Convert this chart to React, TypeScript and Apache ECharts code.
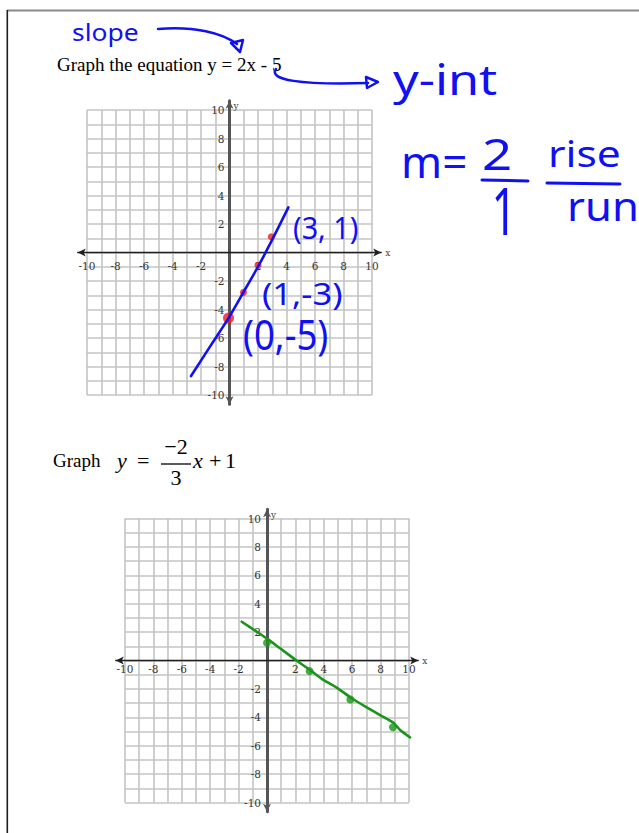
import React, { useEffect, useRef } from "react";
import * as echarts from "echarts";

// ---- data ----
const CELL_MIN = -10;
const CELL_MAX = 10;
const AXIS_EXT = 10.65;
const xTickLabels = [-10, -8, -6, -4, -2, 2, 4, 6, 8, 10];
const yTickLabels = [-10, -8, -6, -4, -2, 2, 4, 6, 8, 10];

// Graph 1: y = 2x - 5 (hand-drawn line and plotted points)
const blueLine = [
  [-2.7, -8.67],
  [-1.3, -6.5],
  [-0.08, -4.62],
  [1.0, -2.75],
  [2.0, -1.0],
  [3.0, 0.9],
  [4.13, 3.17],
];
const redDots = [
  [2.93, 1.1, 7],
  [2.0, -0.9, 7],
  [0.98, -2.8, 7],
  [-0.07, -4.6, 11],
];

// Graph 2: y = -2/3 x + 1 (hand-drawn line and plotted points)
const greenLine = [
  [-1.78, 2.73],
  [-0.73, 2.03],
  [-0.02, 1.56],
  [0.92, 0.86],
  [1.97, 0.08],
  [3.03, -0.67],
  [3.97, -1.37],
  [4.91, -1.91],
  [5.96, -2.66],
  [7.02, -3.3],
  [7.96, -3.84],
  [8.9, -4.38],
  [9.37, -4.89],
  [10.07, -5.41],
];
const greenDots = [
  [0, 1.25],
  [3.0, -0.75],
  [5.87, -2.75],
  [8.87, -4.7],
];

const INK = "#1010f2";
const GREEN = "#1a951a";
const RED = "#f21c1c";
const GRID_COLOR = "#c4c4c4";
const HAND = '"Noto Sans", sans-serif';
const SERIF = '"Liberation Serif", "Times New Roman", serif';
const TICK_FONT = '"DejaVu Serif", serif';

// layout of the two coordinate planes
const P1 = { cx: 229.5, cy: 252.5, unit: 14.25 };
const P2 = { cx: 267, cy: 660.5, unit: 14.2 };

type Plane = { cx: number; cy: number; unit: number };

function gridBox(p: Plane, half: number) {
  return {
    left: p.cx - half * p.unit,
    top: p.cy - half * p.unit,
    width: 2 * half * p.unit,
    height: 2 * half * p.unit,
    containLabel: false,
    outerBoundsMode: "none",
  };
}
// thin strip whose bottom edge lies on the x-axis (holds x tick labels)
function xLabelBox(p: Plane) {
  return {
    left: p.cx - 10 * p.unit,
    top: p.cy - 4,
    width: 20 * p.unit,
    height: 4,
    containLabel: false,
    outerBoundsMode: "none",
  };
}
// thin strip whose left edge lies on the y-axis (holds y tick labels)
function yLabelBox(p: Plane) {
  return {
    left: p.cx,
    top: p.cy - 10 * p.unit,
    width: 4,
    height: 20 * p.unit,
    containLabel: false,
    outerBoundsMode: "none",
  };
}

function cellAxis(gridIndex: number) {
  return {
    type: "value",
    gridIndex,
    min: CELL_MIN,
    max: CELL_MAX,
    interval: 1,
    axisLine: { show: false },
    axisTick: { show: false },
    axisLabel: { show: false },
    splitLine: { show: true, lineStyle: { color: GRID_COLOR, width: 1.6 } },
  };
}

function hiddenAxis(gridIndex: number) {
  return {
    type: "value",
    gridIndex,
    min: CELL_MIN,
    max: CELL_MAX,
    show: false,
  };
}

function labelAxis(gridIndex: number, values: number[], margin: number, position: string) {
  return {
    type: "value",
    gridIndex,
    position,
    min: CELL_MIN,
    max: CELL_MAX,
    axisLine: { show: false, onZero: false },
    axisTick: { show: false },
    splitLine: { show: false },
    axisLabel: {
      show: true,
      customValues: values,
      margin,
      color: "#333333",
      fontFamily: TICK_FONT,
      fontSize: 10.5,
    },
  };
}

function dataXAxis(gridIndex: number) {
  return {
    type: "value",
    gridIndex,
    min: -AXIS_EXT,
    max: AXIS_EXT,
    axisLine: {
      show: true,
      onZero: true,
      symbol: ["arrow", "arrow"],
      symbolSize: [6, 8],
      lineStyle: { color: "#1e1e1e", width: 1.4 },
    },
    axisTick: { show: false },
    splitLine: { show: false },
    axisLabel: { show: false },
    name: "x",
    nameLocation: "end",
    nameGap: 4,
    nameTextStyle: { color: "#444", fontFamily: TICK_FONT, fontSize: 9 },
  };
}

function dataYAxis(gridIndex: number) {
  return {
    type: "value",
    gridIndex,
    min: -AXIS_EXT,
    max: AXIS_EXT,
    axisLine: {
      show: true,
      onZero: true,
      symbol: ["arrow", "arrow"],
      symbolSize: [6, 8],
      lineStyle: { color: "#555555", width: 3 },
    },
    axisTick: { show: false },
    splitLine: { show: false },
    axisLabel: { show: false },
    name: "y",
    nameLocation: "end",
    nameGap: -1,
    nameTextStyle: {
      color: "#444",
      fontFamily: TICK_FONT,
      fontSize: 9,
      align: "left",
      verticalAlign: "top",
      padding: [0, 0, 0, 4],
    },
  };
}

function txt(
  text: string,
  x: number,
  y: number,
  font: string,
  fill: string,
  opts: { align?: string; sx?: number; sy?: number } = {}
) {
  const align = opts.align || "left";
  return {
    type: "text",
    x,
    y,
    scaleX: opts.sx || 1,
    scaleY: opts.sy || 1,
    silent: true,
    z: 10,
    style: {
      text,
      font,
      fill,
      textAlign: align,
      align,
      textVerticalAlign: "middle",
      verticalAlign: "middle",
    },
  };
}

function stroke(color: string, w: number) {
  return { stroke: color, lineWidth: w, fill: null, lineCap: "round", lineJoin: "round" };
}

export default function App() {
  const ref = useRef<HTMLDivElement>(null);

  useEffect(() => {
    if (!ref.current) return;
    const chart = echarts.init(ref.current, undefined, { renderer: "svg" });

    const graphic: any[] = [
      // page border
      { type: "line", silent: true, shape: { x1: 7, y1: 10.5, x2: 639, y2: 10.5 }, style: { stroke: "#8a8a8a", lineWidth: 2 } },
      { type: "line", silent: true, shape: { x1: 7.3, y1: 10, x2: 7.3, y2: 833 }, style: { stroke: "#1e1e1e", lineWidth: 1.6 } },

      // printed titles
      txt("Graph the equation y = 2x - 5", 57, 64, `19px ${SERIF}`, "#000"),
      txt("Graph", 53, 460, `19px ${SERIF}`, "#000"),
      txt("y", 117, 460, `italic 22px ${SERIF}`, "#000"),
      txt("=", 137, 460, `22px ${SERIF}`, "#000"),
      txt("\u22122", 176, 446, `22px ${SERIF}`, "#000", { align: "center" }),
      { type: "line", silent: true, shape: { x1: 161, y1: 464, x2: 191, y2: 464 }, style: { stroke: "#000", lineWidth: 1.3 } },
      txt("3", 176, 477.5, `22px ${SERIF}`, "#000", { align: "center" }),
      txt("x", 193, 460, `italic 22px ${SERIF}`, "#000"),
      txt("+", 209, 460, `22px ${SERIF}`, "#000"),
      txt("1", 225, 460, `22px ${SERIF}`, "#000"),

      // handwritten notes
      txt("slope", 72, 31, `24px ${HAND}`, INK, { sx: 1.1 }),
      {
        type: "bezierCurve", silent: true, z: 10,
        shape: { x1: 158, y1: 29, cpx1: 195, cpy1: 26, cpx2: 222, cpy2: 33, x2: 237, y2: 44 },
        style: stroke(INK, 2.5),
      },
      { type: "polygon", silent: true, z: 10, shape: { points: [[231, 43], [243, 40], [240, 52]] }, style: stroke(INK, 2.5) },
      {
        type: "bezierCurve", silent: true, z: 10,
        shape: { x1: 276, y1: 69, cpx1: 268, cpy1: 80, cpx2: 300, cpy2: 85, x2: 368, y2: 83 },
        style: stroke(INK, 2.5),
      },
      { type: "polygon", silent: true, z: 10, shape: { points: [[366, 77], [378, 82], [367, 88]] }, style: stroke(INK, 2.5) },
      txt("y-int", 393, 79, `42px ${HAND}`, INK, { sx: 1.2 }),

      txt("m=", 401, 160.5, `44px ${HAND}`, INK),
      txt("2", 482, 153, `44px ${HAND}`, INK, { sx: 1.2 }),
      { type: "line", silent: true, z: 10, shape: { x1: 482, y1: 180, x2: 528, y2: 181 }, style: stroke(INK, 3) },
      txt("1", 504, 209, `44px ${HAND}`, INK, { align: "center", sy: 1.5 }),
      txt("rise", 548, 153.5, `36px ${HAND}`, INK, { sx: 1.18 }),
      { type: "line", silent: true, z: 10, shape: { x1: 547, y1: 183, x2: 620, y2: 184 }, style: stroke(INK, 3) },
      txt("run", 567, 205.5, `40px ${HAND}`, INK, { sx: 1.09 }),

      txt("(3, 1)", 293, 227.7, `30px ${HAND}`, INK, { sx: 0.96 }),
      txt("(1,-3)", 262, 293, `30px ${HAND}`, INK, { sx: 1.15 }),
      txt("(0,-5)", 243, 334.4, `42px ${HAND}`, INK, { sx: 0.87 }),
    ];

    const option: any = {
      animation: false,
      backgroundColor: "#ffffff",
      grid: [
        gridBox(P1, 10), // 0 cells 1
        gridBox(P1, AXIS_EXT), // 1 data 1
        gridBox(P2, 10), // 2 cells 2
        gridBox(P2, AXIS_EXT), // 3 data 2
        xLabelBox(P1), // 4
        yLabelBox(P1), // 5
        xLabelBox(P2), // 6
        yLabelBox(P2), // 7
      ],
      xAxis: [
        cellAxis(0),
        dataXAxis(1),
        cellAxis(2),
        dataXAxis(3),
        labelAxis(4, xTickLabels, 8, "bottom"),
        hiddenAxis(5),
        labelAxis(6, xTickLabels, 3, "bottom"),
        hiddenAxis(7),
      ],
      yAxis: [
        cellAxis(0),
        dataYAxis(1),
        cellAxis(2),
        dataYAxis(3),
        hiddenAxis(4),
        labelAxis(5, yTickLabels, 5, "left"),
        hiddenAxis(6),
        labelAxis(7, yTickLabels, 6, "left"),
      ],
      series: [
        {
          type: "scatter",
          xAxisIndex: 1,
          yAxisIndex: 1,
          data: redDots,
          symbolSize: (v: number[]) => v[2],
          itemStyle: { color: RED },
          z: 3,
        },
        {
          type: "line",
          xAxisIndex: 1,
          yAxisIndex: 1,
          data: blueLine,
          showSymbol: false,
          smooth: 0.25,
          lineStyle: { color: INK, width: 2.6, cap: "round" },
          z: 4,
        },
        {
          type: "line",
          xAxisIndex: 3,
          yAxisIndex: 3,
          data: greenLine,
          showSymbol: false,
          smooth: 0.2,
          lineStyle: { color: GREEN, width: 2.6, cap: "round" },
          z: 3,
        },
        {
          type: "scatter",
          xAxisIndex: 3,
          yAxisIndex: 3,
          data: greenDots,
          symbolSize: 8,
          itemStyle: { color: GREEN },
          z: 4,
        },
      ],
      graphic,
    };

    chart.setOption(option);
    return () => chart.dispose();
  }, []);

  return (
    <div
      ref={ref}
      style={{ position: "absolute", left: 0, top: 0, width: 639, height: 833, background: "#fff" }}
    />
  );
}
